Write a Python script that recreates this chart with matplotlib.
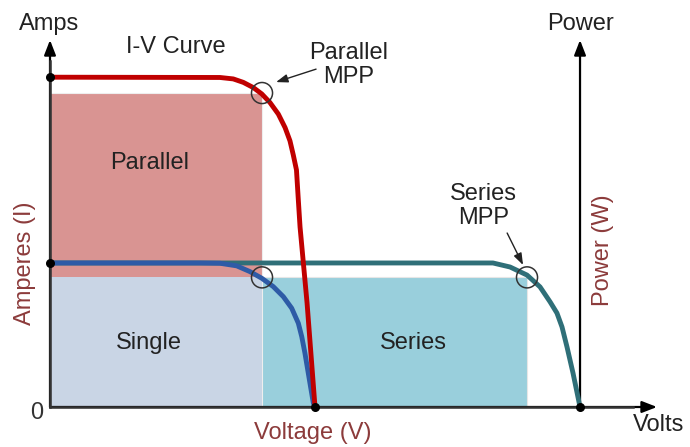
import matplotlib
matplotlib.use("Agg")
import matplotlib.pyplot as plt
from matplotlib.patches import Rectangle

plt.rcParams['font.family'] = ['Liberation Sans', 'DejaVu Sans']

# I-V curves (volts, amps)
single_v = [0, 11.32, 12.83, 14.09, 15.09, 15.98, 16.85, 17.61, 18.24, 18.74,
            19.0, 19.24, 19.49, 19.87, 20.0]
single_i = [5.0, 5.0, 4.99, 4.90, 4.70, 4.47, 4.18, 3.83, 3.43, 2.91,
            2.44, 1.87, 1.18, 0.14, 0]

parallel_v = [0, 12.83, 13.83, 14.59, 15.34, 15.98, 16.60, 17.23, 17.74, 18.11,
              18.36, 18.60, 18.74, 18.87, 19.40, 20.0]
parallel_i = [11.45, 11.44, 11.39, 11.27, 11.09, 10.87, 10.57, 10.17, 9.70, 9.24,
              8.75, 8.23, 7.19, 6.25, 3.61, 0]

series_v = [0, 33.43, 34.72, 36.0, 36.98, 37.74, 38.26, 38.64, 39.02, 39.47, 40.0]
series_i = [5.0, 5.0, 4.86, 4.58, 4.17, 3.65, 3.26, 2.78, 2.08, 1.18, 0]

# max power points
mpp_names = ['Single', 'Parallel', 'Series']
mpp_v = [16.0, 16.0, 36.0]
mpp_i = [4.5, 10.9, 4.5]

c_red = '#c00000'
c_blue = '#2e5ba6'
c_teal = '#2f6f78'
c_label = '#8c3b3b'
c_axis = '#333333'

fig = plt.figure(figsize=(6.9, 4.47), dpi=100)
ax = fig.add_axes([0, 0, 1, 1])
ax.set_xlim(-3.774, 48.30)
ax.set_ylim(-1.389, 14.13)
ax.axis('off')

# power rectangles
ax.add_patch(Rectangle((0, 0), mpp_v[2], mpp_i[2], facecolor='#99cfdc',
                       edgecolor='#e6e6e6', linewidth=0.8, zorder=1))
ax.add_patch(Rectangle((0, 0), mpp_v[1], mpp_i[1], facecolor='#d99492',
                       edgecolor='#eeeeee', linewidth=0.8, zorder=1))
ax.add_patch(Rectangle((0, 0), mpp_v[0], mpp_i[0], facecolor='#c9d5e5',
                       edgecolor='none', zorder=2))

# axes with arrows
arrow = dict(arrowstyle='-|>,head_length=0.9,head_width=0.35', color='black',
             linewidth=1.6, shrinkA=0, shrinkB=0)
ax.annotate('', xy=(0, 12.74), xytext=(0, 0), arrowprops=arrow, zorder=3)
ax.annotate('', xy=(40, 12.74), xytext=(40, 0), arrowprops=arrow, zorder=3)
ax.annotate('', xy=(45.81, 0), xytext=(0, 0), arrowprops=arrow, zorder=3)
ax.plot([0, 0], [0, 12.0], color=c_axis, linewidth=1.8, zorder=3)
ax.plot([0, 44], [0, 0], color=c_axis, linewidth=1.8, zorder=3)

# curves
for v, i, c, z in [(series_v, series_i, c_teal, 4),
                   (single_v, single_i, c_blue, 5),
                   (parallel_v, parallel_i, c_red, 6)]:
    ax.plot(v, i, color=c, linewidth=3.5, zorder=z,
            solid_capstyle='round', solid_joinstyle='round')

# end points
ax.scatter([0, 0, 20, 40], [parallel_i[0], single_i[0], 0, 0], s=30,
           color='black', zorder=8)

# MPP circles
ax.scatter(mpp_v, mpp_i, s=230, facecolors='none', edgecolors='#333333',
           linewidths=1.1, zorder=7)

# MPP pointers
ptr = dict(arrowstyle='-|>,head_length=0.7,head_width=0.25', color='#222222',
           linewidth=1.0, shrinkA=0, shrinkB=0)
ax.annotate('', xy=(17.06, 11.28), xytext=(20.08, 11.73), arrowprops=ptr, zorder=9)
ax.annotate('', xy=(35.70, 4.93), xytext=(34.50, 6.04), arrowprops=ptr, zorder=9)

fs = 17
ax.text(-0.08, 13.3, 'Amps', fontsize=fs, ha='center', va='center', color='#222222')
ax.text(40.0, 13.3, 'Power', fontsize=fs, ha='center', va='center', color='#222222')
ax.text(9.5, 12.5, 'I-V Curve', fontsize=fs, ha='center', va='center', color='#222222')
ax.text(22.5, 11.87, 'Parallel\nMPP', fontsize=fs, ha='center', va='center',
        color='#222222', linespacing=1.1)
ax.text(32.7, 6.98, 'Series\nMPP', fontsize=fs, ha='center', va='center',
        color='#222222', linespacing=1.1)
ax.text(7.55, 8.47, 'Parallel', fontsize=fs, ha='center', va='center', color='#222222')
ax.text(7.47, 2.22, 'Single', fontsize=fs, ha='center', va='center', color='#222222')
ax.text(27.4, 2.22, 'Series', fontsize=fs, ha='center', va='center', color='#222222')
ax.text(-1.89, 5.0, 'Amperes (I)', fontsize=fs, ha='center', va='center',
        color=c_label, rotation=90)
ax.text(41.7, 5.46, 'Power (W)', fontsize=fs, ha='center', va='center',
        color=c_label, rotation=90)
ax.text(19.85, -0.9, 'Voltage (V)', fontsize=fs, ha='center', va='center', color=c_label)
ax.text(45.95, -0.63, 'Volts', fontsize=fs, ha='center', va='center', color='#222222')
ax.text(-1.0, -0.2, '0', fontsize=fs, ha='center', va='center', color='#333333')

plt.savefig('out.png', dpi=100, facecolor='white')
plt.close()
